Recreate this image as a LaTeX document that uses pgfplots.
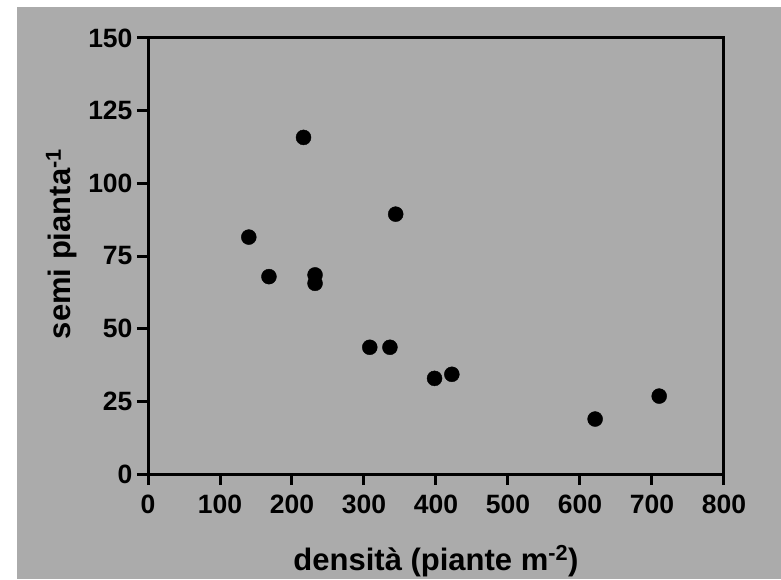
\documentclass[border=0pt]{standalone}
\usepackage{fontspec}
\setmainfont{Liberation Sans}
\usepackage{pgfplots}
\pgfplotsset{compat=1.18}
\definecolor{bg}{RGB}{171,171,171}
\begin{document}
\begin{tikzpicture}[x=1pt,y=1pt]
\useasboundingbox (0,0) rectangle (781,579);
\fill[bg] (17,0) rectangle (781,572);
\begin{axis}[
  at={(148pt,105pt)}, anchor=south west,
  width=576pt, height=436pt, scale only axis,
  xmin=0, xmax=800, ymin=0, ymax=150,
  xtick={0,100,...,800}, ytick={0,25,...,150},
  axis line style={line width=3pt, black},
  tick style={line width=3pt, black},
  tickpos=left, tick align=outside, major tick length=11pt,
  /pgf/number format/assume math mode=true,
  tick label style={font=\fontsize{26.5}{26.5}\selectfont\bfseries},
  xticklabel style={yshift=-6pt},
  yticklabel style={xshift=-1pt},
  xlabel={densità (piante m\textsuperscript{-2})},
  ylabel={semi pianta\textsuperscript{-1}},
  label style={font=\fontsize{31}{31}\selectfont\bfseries},
  xlabel style={at={(axis description cs:0.5,-0.2202)}, anchor=base},
  ylabel style={at={(axis description cs:-0.1354,0.5275)}, anchor=base},
  clip=false,
]
\addplot[only marks, mark=*, mark size=7.5pt, black] coordinates {
  (140,81.5) (168,67.9) (216,115.8) (232,68.5) (232,65.6) (344,89.4)
  (308,43.6) (336,43.6) (398,32.9) (422,34.3) (621,18.9) (710,26.8)
};
\end{axis}
\end{tikzpicture}
\end{document}
